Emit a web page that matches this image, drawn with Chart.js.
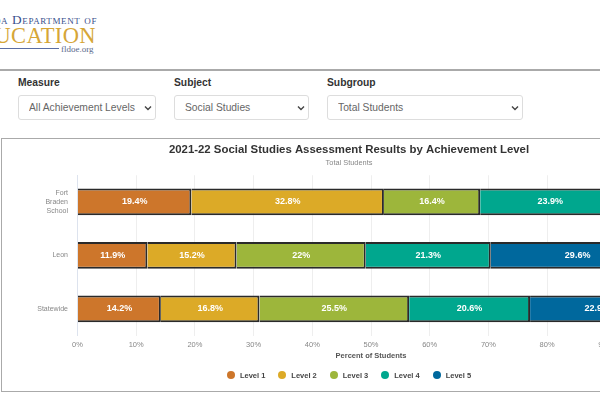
<!DOCTYPE html>
<html>
<head>
<meta charset="utf-8">
<script src="https://cdn.jsdelivr.net/npm/chart.js@4"></script>
<style>
html,body{margin:0;padding:0;width:600px;height:400px;overflow:hidden;background:#fff;font-family:"Liberation Sans",Arial,sans-serif}
.abs{position:absolute;white-space:nowrap}
.dept{right:503px;top:12px;font:13.3px "Liberation Serif",serif;font-variant:small-caps;color:#39508c;letter-spacing:.6px}
.edu{right:504px;top:23px;font:22.5px "Liberation Serif",serif;color:#d6a637;letter-spacing:.4px}
.logoline{left:0;top:48px;width:59px;height:1px;background:#5a6ea5}
.site{left:61px;top:44px;font:9px "Liberation Serif",serif;color:#5a6a8c}
.rule{left:0;top:69px;width:600px;height:2px;background:#aaa}
.lbl{top:77px;font-weight:bold;font-size:10.3px;color:#333}
select{position:absolute;top:95px;height:25px;box-sizing:border-box;appearance:none;-webkit-appearance:none;border:1px solid #ddd;border-radius:3px;color:#666;font:10.3px "Liberation Sans",Arial,sans-serif;padding-left:10px;
  background:#fff url("data:image/svg+xml,%3Csvg xmlns='http://www.w3.org/2000/svg' width='8' height='6'%3E%3Cpath d='M1 1.5l3 3 3-3' fill='none' stroke='%23444' stroke-width='1.4'/%3E%3C/svg%3E") no-repeat right 3px center}
.box{left:1px;top:138px;width:700px;height:252px;border:1.5px solid #aaa}
#wrap{position:absolute;left:3px;top:139px;width:694px;height:251px}
#legend{position:absolute;left:3px;top:370px;width:692px;height:10px;display:flex;justify-content:center;align-items:center;gap:13px;font:bold 7.5px "Liberation Sans",Arial,sans-serif;color:#444}
#legend span{display:inline-flex;align-items:center;gap:5px}
#legend i{display:block;width:8px;height:8px;border-radius:50%}
</style>
</head>
<body>
<div class="abs dept">Florida Department of</div>
<div class="abs edu">EDUCATION</div>
<div class="abs logoline"></div>
<div class="abs site">fldoe.org</div>
<div class="abs rule"></div>

<div class="abs lbl" style="left:18px">Measure</div>
<div class="abs lbl" style="left:174px">Subject</div>
<div class="abs lbl" style="left:327px">Subgroup</div>
<select style="left:18px;width:138px"><option>All Achievement Levels</option></select>
<select style="left:174px;width:135px"><option>Social Studies</option></select>
<select style="left:327px;width:196px"><option>Total Students</option></select>

<div class="abs box"></div>
<div id="wrap"><canvas id="chart1"></canvas></div>
<div id="legend"></div>

<script>
const categories=[["Fort","Braden","School"],"Leon","Statewide"];
const tickValues=[0,10,20,30,40,50,60,70,80,90,100];
const levelNames=["Level 1","Level 2","Level 3","Level 4","Level 5"];
const level1=[19.4,11.9,14.2];
const level2=[32.8,15.2,16.8];
const level3=[16.4,22,25.5];
const level4=[23.9,21.3,20.6];
const level5=[7.5,29.6,22.9];
const levelColors=["#cd762b","#dcaa27","#9db63b","#00a78e","#00689d"];

/* LABELS INSIDE BARS */
const barLabels={
  id:"barLabels",
  afterDatasetsDraw(chart){
    const c=chart.ctx;
    c.save();
    c.font="bold 9px 'Liberation Sans'";
    c.fillStyle="#fff";
    c.textAlign="center";
    c.textBaseline="middle";
    chart.data.datasets.forEach((d,i)=>{
      chart.getDatasetMeta(i).data.forEach((b,j)=>{
        c.fillText(d.data[j]+"%",(b.x+b.base)/2,b.y);
      });
    });
    c.restore();
  }
};

const chart=new Chart(chart1,{
  type:"bar",
  data:{
    labels:categories,
    datasets:[level1,level2,level3,level4,level5].map((v,i)=>({
      label:levelNames[i],
      data:v,
      backgroundColor:levelColors[i],
      borderColor:"#2a2a2a",
      borderWidth:2,
      barPercentage:.5,
      categoryPercentage:1
    }))
  },
  options:{
    indexAxis:"y",
    responsive:true,
    maintainAspectRatio:false,
    animation:false,
    layout:{padding:{left:30.5,right:32.5,bottom:29.5}},
    scales:{
      x:{
        stacked:true,
        min:0,max:100,
        afterBuildTicks:s=>{s.ticks=tickValues.map(v=>({value:v}))},
        grid:{color:"#eee",drawTicks:false},
        border:{display:false},
        ticks:{color:"#888",padding:4.5,font:{size:7.5,family:"Liberation Sans"},maxRotation:0,callback:v=>v+"%"},
        title:{display:true,text:"Percent of Students",color:"#555",font:{size:7.5,weight:"bold",family:"Liberation Sans"},padding:{top:-2,bottom:0}}
      },
      y:{
        stacked:true,
        afterFit:s=>{s.width=44},
        grid:{display:false,drawTicks:false},
        border:{color:"#dde3ee"},
        ticks:{color:"#888",padding:9.5,font:{size:7,lineHeight:1.3,family:"Liberation Sans"}}
      }
    },
    plugins:{
      title:{display:true,text:"2021-22 Social Studies Assessment Results by Achievement Level",color:"#333",font:{size:11.4,weight:"bold",family:"Liberation Sans"},padding:{top:4,bottom:2.2}},
      subtitle:{display:true,text:"Total Students",color:"#888",font:{size:7.4,family:"Liberation Sans"},padding:{bottom:7.5}},
      legend:{display:false},
      tooltip:{enabled:false}
    }
  },
  plugins:[barLabels]
});

/* LEGEND */
legend.innerHTML=chart.data.datasets.map(d=>`<span><i style="background:${d.backgroundColor}"></i>${d.label}</span>`).join("");
</script>
</body>
</html>
